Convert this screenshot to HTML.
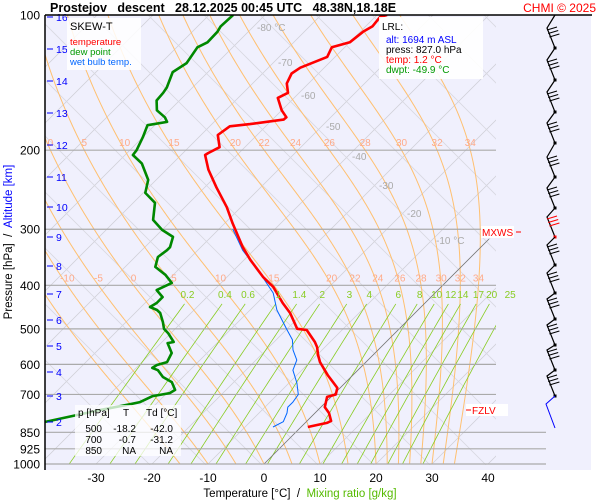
<!DOCTYPE html>
<html><head><meta charset="utf-8"><style>
html,body{margin:0;padding:0;background:#fff;}
svg{display:block;font-family:"Liberation Sans",sans-serif;}
</style></head><body>
<svg id="chart" width="600" height="500" viewBox="0 0 600 500">
<rect x="0" y="0" width="600" height="500" fill="#ffffff"/>
<rect x="45" y="15" width="546" height="455" fill="#f0f0fd"/>
<defs><clipPath id="pc"><rect x="45" y="15" width="451" height="450"/></clipPath></defs>
<g id="grid" clip-path="url(#pc)"></g>
<g id="isobars"></g>
<g id="series" clip-path="url(#pc)"></g>
<g id="labels"></g>
<g id="winds"></g>
<line x1="45" y1="15" x2="45" y2="470" stroke="#000" stroke-width="1.5"/>
<line x1="45" y1="15" x2="592" y2="15" stroke="#000" stroke-width="1.5"/>
<text x="50" y="12" font-size="12.5" font-weight="bold" xml:space="preserve">Prostejov   descent   28.12.2025 00:45 UTC   48.38N,18.18E</text>
<text x="596" y="12" font-size="12" fill="#f00" text-anchor="end">CHMI © 2025</text>
<text transform="translate(12,242) rotate(-90)" font-size="11.5" text-anchor="middle" xml:space="preserve">Pressure [hPa]  /  <tspan fill="#0000ff">Altitude [km]</tspan></text>
<text x="300" y="497" font-size="11.5" text-anchor="middle" xml:space="preserve">Temperature [°C]  /  <tspan fill="#55bb00">Mixing ratio [g/kg]</tspan></text>
<g>
<rect x="67" y="18" width="74" height="52" fill="#fff" fill-opacity="0.85"/>
<text x="70" y="30" font-size="11">SKEW-T</text>
<text x="70" y="45" font-size="9.5" fill="#f00">temperature</text>
<text x="70" y="55" font-size="9.5" fill="#009900">dew point</text>
<text x="70" y="65" font-size="9.5" fill="#0066ff">wet bulb temp.</text>
</g>
<g>
<rect x="379" y="17" width="104" height="62" fill="#fff" fill-opacity="0.9"/>
<text x="382" y="30" font-size="10">LRL:</text>
<text x="386" y="43" font-size="10" fill="#0000ff">alt: 1694 m ASL</text>
<text x="386" y="53" font-size="10">press: 827.0 hPa</text>
<text x="386" y="63" font-size="10" fill="#f00">temp: 1.2 °C</text>
<text x="386" y="73" font-size="10" fill="#009900">dwpt: -49.9 °C</text>
</g>
<g font-size="10">
<rect x="75" y="405" width="106" height="51" fill="#fff" fill-opacity="0.75"/>
<text x="78" y="416">p [hPa]</text><text x="123" y="416">T</text><text x="146" y="416">Td [°C]</text>
<text x="102" y="432" text-anchor="end">500</text><text x="136" y="432" text-anchor="end">-18.2</text><text x="173" y="432" text-anchor="end">-42.0</text>
<text x="102" y="443" text-anchor="end">700</text><text x="136" y="443" text-anchor="end">-0.7</text><text x="173" y="443" text-anchor="end">-31.2</text>
<text x="102" y="454" text-anchor="end">850</text><text x="136" y="454" text-anchor="end">NA</text><text x="173" y="454" text-anchor="end">NA</text>
</g>
<g>
<rect x="481" y="226" width="33" height="12" fill="#fff"/>
<text x="482" y="236" font-size="10" fill="#f00">MXWS</text>
<line x1="516" y1="232" x2="521" y2="232" stroke="#f00"/>
</g>
<g>
<rect x="466" y="404" width="42" height="12" fill="#fff"/>
<line x1="466" y1="410" x2="471" y2="410" stroke="#f00"/>
<text x="472" y="414" font-size="10" fill="#f00">FZLV</text>
</g>
<script>
// ---- data ----
const tempP = [827,810,802,770,747,709,700,677,657,634,608,593,572,549,535,503,500,461,438,403,383,351,329,291,268,242,221,205,203,197,185,177,175,171,169,163,153,149,142,135,131,124,118,115,109,106,101,100];
const tempT = [1.2,3.9,4.3,2.5,0.7,-0.7,0.4,-0.5,-2.3,-4.5,-6.8,-8.2,-9.8,-11.4,-12.7,-16.3,-18.2,-22.3,-25.4,-30,-33.6,-38.9,-42.5,-48.6,-52.5,-57.9,-62.5,-65.7,-65.5,-64.5,-67,-66.4,-63.2,-58,-57.9,-60,-62.9,-62,-63.9,-64.8,-64.3,-61.4,-62.3,-60,-59.5,-58.8,-59.1,-58.2];
const dewP = [827,758,738,728,706,695,684,657,640,618,611,602,593,566,538,535,511,500,483,461,454,447,438,425,410,395,379,364,346,334,329,312,301,286,262,249,233,214,205,200,187,176,173,169,163,155,149,145,134,128,118,115,109,106,100];
const dewT = [-49.9,-38.9,-35,-33.2,-32,-29.5,-29.1,-31.1,-33.6,-35.7,-37.1,-36.8,-35.5,-36.3,-38.8,-37.9,-40.5,-42,-43.4,-45.5,-46.6,-48.4,-47.9,-47.9,-50.2,-48.8,-51.4,-54.6,-55.9,-55.5,-55.5,-56.8,-60,-63.4,-66.1,-69.6,-71.4,-75.5,-78.6,-78.8,-80,-81.3,-78.4,-79.6,-82.3,-84.1,-84.3,-84.6,-86.3,-85.4,-86.3,-85.4,-85.5,-85.9,-85.7];
const wetP = [827,805,770,747,728,700,660,618,587,557,529,503,454,416,385,357,334,300];
const wetT = [-5,-4.1,-5,-5.9,-5.9,-6.3,-8.6,-11.6,-12.7,-15.2,-17.1,-19.8,-25.2,-28.9,-33.4,-37.9,-42,-47.5];
const pressureTicks = [100,200,300,400,500,600,700,850,925,1000];
const tempTicks = [-30,-20,-10,0,10,20,30,40];
const altKm = [2,3,4,5,6,7,8,9,10,11,12,13,14,15,16];
const altY = [422,396,372,346,320,294,266,237,207,177,145,113,81,49,17];
const thetaW = [-15,-10,-5,0,5,10,15,20,22,24,26,28,30,32,34];
const mixRatios = [0.2,0.4,0.6,1,1.4,2,3,4,6,8,10,12,14,17,20,25];
const isothermLabels = [-80,-70,-60,-50,-40,-30,-20,-10];
const isoLabelY = [27,62,95,126,156,185,213,240];
const windY = [48,80,112,143,177,208,237,265,293,319,345,370,396];

// ---- axis functions ----
const NS='http://www.w3.org/2000/svg';
function yP(p){return 15+195*Math.log(p/100);}
const YB=yP(1000);
function xT(t,p){return 264+5.6*t+(YB-yP(p));}
function mk(tag,attrs,parent){const e=document.createElementNS(NS,tag);for(const k in attrs)e.setAttribute(k,attrs[k]);parent.appendChild(e);return e;}
const grid=document.getElementById('grid'),iso=document.getElementById('isobars'),ser=document.getElementById('series'),lab=document.getElementById('labels'),win=document.getElementById('winds');

// diagonal gray grid (isotherms + crossing lines)
for(let t=-160;t<=60;t+=10){
  const l=mk('line',{x1:xT(t,1000),y1:YB,x2:xT(t,1000)+460,y2:YB-460,stroke:'#d0d0d8','stroke-width':0.8},grid);
  
  
}
for(let c=-300;c<=700;c+=56){
  const l=mk('line',{x1:c,y1:15,x2:c+460,y2:475,stroke:'#d8d8e0','stroke-width':0.8},grid);
  
  
}
// moist adiabats
function es(tc){return 6.112*Math.exp(17.67*tc/(tc+243.5));}
const adiabatLabels=[];
thetaW.forEach(tw=>{
  let T=tw+273.15,pts=[];
  for(let p=1000;p>=100;p-=2){
    pts.push([xT(T-273.15,p),yP(p)]);
    if(Math.abs(p-400)<1)adiabatLabels.push([tw,xT(T-273.15,p),400]);
    if(Math.abs(p-200)<1)adiabatLabels.push([tw,xT(T-273.15,p),200]);
    const e=es(T-273.15),rs=0.622*e/(p-e);
    const dTdp=(287*T+2.5e6*rs)/(1004+2.5e6*2.5e6*rs*0.622/(287*T*T))/p;
    T-=dTdp*2;
  }
  const pl=mk('polyline',{points:pts.map(a=>a.join(',')).join(' '),fill:'none',stroke:'#ffc070','stroke-width':1},grid);
  
  
});
// mixing ratio lines
function tdFromE(e){const a=Math.log(e/6.112);return 243.5*a/(17.67-a);}
mixRatios.forEach(w=>{
  const pts=[];
  for(let p=1000;p>=431;p-=10){const e=w*p/(622+w);pts.push([xT(tdFromE(e),p),yP(p)]);}
  const pl=mk('polyline',{points:pts.map(a=>a.join(',')).join(' '),fill:'none',stroke:'#88cc22','stroke-width':0.8},grid);
  
  
  const e=w*431/(622+w),x=xT(tdFromE(e),431);
  const t=mk('text',{x:x,y:298,'font-size':10,fill:'#88cc22','text-anchor':'middle'},lab);
  t.textContent=String(w);
  
  
});
// 0C isotherm
const z=mk('line',{x1:xT(0,1000),y1:YB,x2:xT(0,1000)+225,y2:YB-225,stroke:'#777','stroke-width':0.8},grid);


// adiabat labels
adiabatLabels.forEach(a=>{
  if(a[1]<50||a[1]>492)return;
  const t=mk('text',{x:a[1],y:yP(a[2])-4,'font-size':10,fill:'#ffaa88','text-anchor':'middle'},lab);
  t.textContent=String(a[0]);
  
  
});
// isotherm labels
isothermLabels.forEach((v,i)=>{
  const t=mk('text',{x:xT(v,1000)+(YB-isoLabelY[i])+4,y:isoLabelY[i]+4,'font-size':10,fill:'#aaaaaa'},lab);
  t.textContent=(i==0||i==isothermLabels.length-1)?v+' °C':String(v);
  
  
});
// isobars + pressure ticks
pressureTicks.forEach(p=>{
  const y=yP(p);
  if(p>100){
    const l=mk('line',{x1:45,y1:y,x2:p>=850?546:496,y2:y,stroke:'#aaaaaa','stroke-width':1.2},iso);
    
    
  }
  const t=mk('text',{x:40,y:y+4.5,'font-size':12,'text-anchor':'end'},lab);
  t.textContent=String(p);
  
  
});
// temperature ticks
tempTicks.forEach(v=>{
  const t=mk('text',{x:xT(v,1000),y:482,'font-size':12,'text-anchor':'middle'},lab);
  t.textContent=String(v);
  
  
});
// altitude ticks
altKm.forEach((k,i)=>{
  const l=mk('line',{x1:47,y1:altY[i],x2:53,y2:altY[i],stroke:'#0000ff','stroke-width':1},lab);
  
  
  const t=mk('text',{x:56,y:altY[i]+4,'font-size':10.5,fill:'#0000ff'},lab);
  t.textContent=String(k);
  
  
});
// series
function series(P,T,color,w,name){
  const pts=P.map((p,i)=>xT(T[i],p).toFixed(1)+','+yP(p).toFixed(1)).join(' ');
  const pl=mk('polyline',{points:pts,fill:'none',stroke:color,'stroke-width':w,'stroke-linejoin':'round'},ser);
  
  
}
series(wetP,wetT,'#0066ff',1,'wet-bulb-line');
series(dewP,dewT,'#008800',2.6,'dew-point-line');
series(tempP,tempT,'#ff0000',2.6,'temperature-line');
// wind barbs
let prev=[555,15];
windY.forEach((y,i)=>{
  const col=(i==6)?'#ff0000':'#000';
  const top=[547,y-20];
  const c=mk('polyline',{points:prev.join(',')+' '+top.join(',')+' 555,'+y,fill:'none',stroke:'#000','stroke-width':1.2},win);
  
  
  for(let b=0;b<3;b++){
    const bx=547+b*1.2,by=y-18+b*3.5;
    const l=mk('line',{x1:bx,y1:by,x2:bx+10,y2:by-3,stroke:col,'stroke-width':1},win);
    
    
  }
  const d=mk('rect',{x:553.5,y:y-1.5,width:3,height:3,fill:col},win);
  
  
  prev=[555,y];
});
const bl=mk('polyline',{points:'555,396 546,404 555,428',fill:'none',stroke:'#0000ff','stroke-width':1},win);


</script>
</svg>
</body></html>
